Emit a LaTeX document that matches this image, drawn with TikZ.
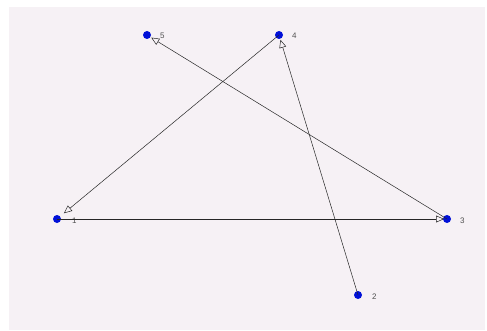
\documentclass[tikz,border=0pt]{standalone}
\usepackage{fontspec}
\setmainfont{Liberation Sans}
\usetikzlibrary{arrows.meta}
\definecolor{panel}{HTML}{F6F1F5}
\definecolor{dotblue}{HTML}{0010D8}
\definecolor{lbl}{HTML}{505050}
\begin{document}
\begin{tikzpicture}[x=1pt,y=1pt,
  vtx/.style={circle,fill=dotblue,inner sep=0pt,minimum size=8pt},
  lab/.style={text=lbl,font=\fontsize{8}{9}\selectfont,anchor=west,inner sep=0pt},
  edge/.style={draw=black!85,line width=0.5pt,-{Triangle[open,length=8pt,width=7pt]},shorten >=3pt}]
\useasboundingbox (0,0) rectangle (487,330);
\fill[white] (0,0) rectangle (487,330);
\fill[panel] (9,0) rectangle (485,323);
\node[vtx] (n1) at (57,111) {};
\node[vtx] (n3) at (447,111) {};
\node[vtx] (n4) at (279,295) {};
\node[vtx] (n5) at (147,295) {};
\node[vtx] (n2) at (358,35) {};
\node[lab] (l1) at (72,109) {1};
\node[lab] (l3) at (460,109) {3};
\node[lab] (l4) at (292,294) {4};
\node[lab] (l5) at (160,294) {5};
\node[lab] (l2) at (372,33) {2};
\draw[edge,shorten >=9pt] (n4.center) -- (n1.center);
\draw[edge] (n1.center) -- (n3.center);
\draw[edge,shorten >=5pt] (n3.center) -- (n5.center);
\draw[edge,shorten >=5pt] (n2.center) -- (n4.center);
\end{tikzpicture}
\end{document}
